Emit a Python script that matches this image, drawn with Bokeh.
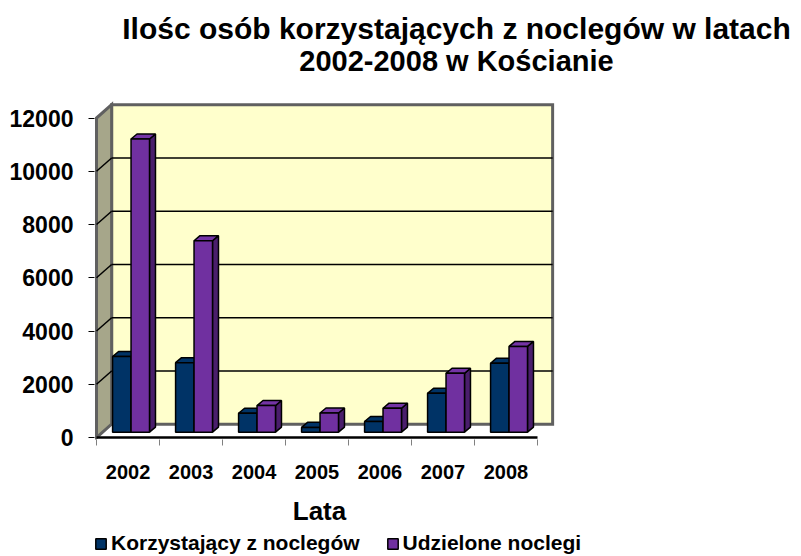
from bokeh.plotting import figure
from bokeh.models import FixedTicker, Range1d, Label, Legend, LegendItem
from bokeh.layouts import column
from bokeh.embed import file_html
from bokeh.resources import INLINE

# ---------------- data ----------------
years = ["2002", "2003", "2004", "2005", "2006", "2007", "2008"]
korzystajacy = [2840, 2610, 710, 180, 400, 1460, 2590]
udzielone = [11010, 7190, 1000, 720, 900, 2210, 3220]
y_ticks = [0, 2000, 4000, 6000, 8000, 10000, 12000]
series_names = ["Korzystający z noclegów", "Udzielone noclegi"]
title_line1 = "Ilośc osób korzystających z noclegów w latach"
title_line2 = "2002-2008 w Kościanie"
x_label = "Lata"

# ---------------- style / geometry ----------------
FONT = "Liberation Sans"
W = 796
LEFT_B = 94
TITLE_H, MAIN_H, LOW_H = 92, 397, 65
WALL_DX, WALL_DY = 0.24, 500
BAR_W = 0.293
BAR_X0 = -0.245
BAR_BASE = 200
BAR_DX, BAR_DY = 0.095, 190
YMAX = y_ticks[-1]
n = len(years)
left, right = -0.5, n - 0.5
colors = [("#003366", "#003366", "#001C3A"), ("#7030A0", "#7434A6", "#4A1E6C")]
nan = float("nan")


def bare(h):
    f = figure(width=W, height=h, x_range=Range1d(LEFT_B, W), y_range=Range1d(0, h),
               x_axis_type=None, y_axis_type=None, output_backend="svg",
               toolbar_location=None, min_border_left=LEFT_B, min_border_right=0,
               min_border_top=0, min_border_bottom=0, outline_line_color=None,
               background_fill_color="white", border_fill_color="white")
    f.title.visible = False
    f.xgrid.visible = False
    f.ygrid.visible = False
    return f


# ---------------- title ----------------
tf = bare(TITLE_H)
tf.add_layout(Label(x=456, y=64, text=title_line1, text_align="center", text_baseline="middle",
                    text_font=FONT, text_font_style="bold", text_font_size="30px",
                    text_color="black"))
tf.add_layout(Label(x=456, y=32, text=title_line2, text_align="center", text_baseline="middle",
                    text_font=FONT, text_font_style="bold", text_font_size="29px",
                    text_color="black"))

# ---------------- main chart ----------------
p = figure(width=W, height=MAIN_H,
           x_range=Range1d(-0.532, -0.5 + (W - 96) / 63), y_range=Range1d(-75, 12958),
           output_backend="svg", toolbar_location=None,
           min_border_left=LEFT_B, min_border_right=0,
           min_border_top=0, min_border_bottom=MAIN_H - 347,
           background_fill_color="white", border_fill_color="white",
           outline_line_color=None)
p.title.visible = False
p.xgrid.visible = False
p.ygrid.visible = False

# floor
p.patch([left, right, right + WALL_DX, left + WALL_DX], [0, 0, WALL_DY, WALL_DY],
        fill_color="white", line_color=None)
# back wall
p.patch([left + WALL_DX, right + WALL_DX, right + WALL_DX, left + WALL_DX],
        [WALL_DY, WALL_DY, YMAX + WALL_DY, YMAX + WALL_DY],
        fill_color="#FFFFCC", line_color="#606060", line_width=3, line_join="miter")
# side wall
p.patch([left, left + WALL_DX, left + WALL_DX, left],
        [0, WALL_DY, YMAX + WALL_DY, YMAX],
        fill_color="#A6A68A", line_color="#606060", line_width=3, line_join="miter")
# gridlines
gv = y_ticks[1:-1]
p.segment(x0=[left + WALL_DX] * len(gv), y0=[v + WALL_DY for v in gv],
          x1=[right + WALL_DX] * len(gv), y1=[v + WALL_DY for v in gv],
          line_color="black", line_width=1.5)
p.segment(x0=[left] * len(gv), y0=gv,
          x1=[left + WALL_DX] * len(gv), y1=[v + WALL_DY for v in gv],
          line_color="black", line_width=1.5)
# front floor edge
p.segment(x0=[left], y0=[0], x1=[right], y1=[0], line_color="black", line_width=2.5)

# bars
for s, vals in enumerate([korzystajacy, udzielone]):
    front_c, top_c, side_c = colors[s]
    x0 = [i + BAR_X0 + s * BAR_W for i in range(n)]
    x1 = [x + BAR_W for x in x0]
    tops = [BAR_BASE + v for v in vals]
    side_xs = [[b, b + BAR_DX, b + BAR_DX, b] for b in x1]
    side_ys = [[BAR_BASE, BAR_BASE + BAR_DY, t + BAR_DY, t] for t in tops]
    top_xs = [[a, b, b + BAR_DX, a + BAR_DX] for a, b in zip(x0, x1)]
    top_ys = [[t, t, t + BAR_DY, t + BAR_DY] for t in tops]
    p.patches(side_xs, side_ys, fill_color=side_c, line_color="black", line_width=1.5)
    p.patches(top_xs, top_ys, fill_color=top_c, line_color="black", line_width=1.5)
    p.quad(left=x0, right=x1, bottom=[BAR_BASE] * n, top=tops,
           fill_color=front_c, line_color="black", line_width=1.5)

# axes
xa = p.xaxis[0]
xa.ticker = FixedTicker(ticks=list(range(n)), minor_ticks=[i - 0.5 for i in range(n + 1)])
xa.major_label_overrides = {i: years[i] for i in range(n)}
xa.major_tick_line_color = None
xa.major_tick_out = 0
xa.major_tick_in = 0
xa.minor_tick_line_color = "#808080"
xa.minor_tick_out = 6
xa.minor_tick_in = 0
xa.axis_line_color = None
xa.major_label_text_font = FONT
xa.major_label_text_font_style = "bold"
xa.major_label_text_font_size = "20px"
xa.major_label_text_color = "black"
xa.major_label_standoff = 19

ya = p.yaxis[0]
ya.ticker = FixedTicker(ticks=y_ticks, minor_ticks=[])
ya.axis_line_color = None
ya.major_tick_line_color = "black"
ya.major_tick_out = 6
ya.major_tick_in = 0
ya.minor_tick_line_color = None
ya.major_label_text_font = FONT
ya.major_label_text_font_style = "bold"
ya.major_label_text_font_size = "23px"
ya.major_label_text_color = "black"
ya.major_label_standoff = 15

# ---------------- axis title + legend ----------------
lf = bare(LOW_H)
lf.add_layout(Label(x=319, y=44, text=x_label, text_align="center", text_baseline="middle",
                    text_font=FONT, text_font_style="bold", text_font_size="26px",
                    text_color="black"))
proxies = []
for s in range(2):
    proxies.append(lf.quad(left=[nan], right=[nan], bottom=[nan], top=[nan],
                           fill_color=colors[s][0], line_color="black", line_width=1.5))
legend = Legend(items=[LegendItem(label=series_names[s], renderers=[proxies[s]]) for s in range(2)],
                orientation="horizontal", location=(0, -1),
                label_text_font=FONT, label_text_font_style="bold",
                label_text_font_size="21px", label_text_color="black",
                glyph_width=13, glyph_height=13, label_standoff=4, spacing=26,
                padding=0, margin=0, border_line_color=None, background_fill_alpha=0)
lf.add_layout(legend)

open("out.html", "w").write(file_html(column(tf, p, lf), INLINE))
